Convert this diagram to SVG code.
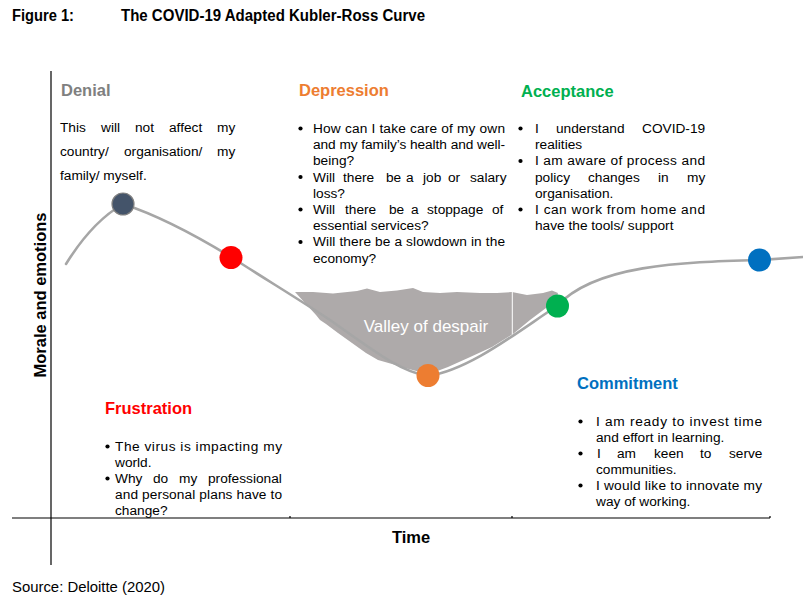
<svg xmlns="http://www.w3.org/2000/svg" width="803" height="598" viewBox="0 0 803 598">
<style>
  .t { font-family: "Liberation Sans", Arial, sans-serif; font-size: 13.7px; fill: #000; }
  .h { font-family: "Liberation Sans", Arial, sans-serif; font-size: 16.5px; font-weight: bold; }
  .ax { font-family: "Liberation Sans", Arial, sans-serif; font-size: 16.5px; font-weight: bold; fill: #000; }
  .ttl { font-family: "Liberation Sans Narrow", "Liberation Sans", Arial, sans-serif; font-size: 16px; font-weight: bold; fill: #000; }
  .axis { stroke: #000; stroke-width: 1.2; fill: none; }
  .curve { stroke: #A6A6A6; stroke-width: 2.6; fill: none; stroke-linecap: round; }
  .b { fill: #000; }
  .dot { stroke: none; }
</style>
<rect width="803" height="598" fill="#fff"/>

<g id="title">
  <text class="ttl" x="12" y="20.5" textLength="62" lengthAdjust="spacingAndGlyphs">Figure 1:</text>
  <text class="ttl" x="121" y="20.5" textLength="304" lengthAdjust="spacingAndGlyphs">The COVID-19 Adapted Kubler-Ross Curve</text>
</g>

<g id="axes">
  <line class="axis" x1="51" y1="71" x2="51" y2="565"/>
  <line class="axis" x1="12" y1="518" x2="770" y2="518"/>
  <line class="axis" x1="290" y1="516" x2="290" y2="518" stroke-width="0.8"/>
  <line class="axis" x1="512" y1="516" x2="512" y2="518" stroke-width="0.8"/>
  <line class="axis" x1="770" y1="516" x2="770" y2="518" stroke-width="0.8"/>
  <text class="ax" transform="translate(45.5,295) rotate(-90)" text-anchor="middle">Morale and emotions</text>
  <text class="ax" x="411" y="542.5" text-anchor="middle">Time</text>
</g>

<g id="valley">
  <path fill="#AEAAAA" d="M295,292 L313,292 L333,293.5 L357,291 L367,288.5 L380,292 L397,290.5 L413,288 L423,292 L440,293 L457,292 L480,293 L497,293 L512,292 L527,295 L543,293 L552,290.5 L558,293 L556,300 L546,308 L530,320 L513,334 L492,347 L468,358 L448,367 L432,373 L420,372 L405,368 L392,364 L378,360 L366,353 L352,343 L338,333 L326,324 L320,320 L316,315 L305,303 Z"/>
  <line x1="512.3" y1="292" x2="512.3" y2="340" stroke="#fff" stroke-width="1"/>
  <text x="426" y="332" text-anchor="middle" font-family="Liberation Sans, Arial, sans-serif" font-size="17" fill="#fff">Valley of despair</text>
</g>

<g id="connectors">
  <path class="curve" d="M66,264 Q92,222 123,204 C160,216 200,238 231,257 C270,282 300,300 330,320 C370,348 400,372 428,376 C470,370 520,330 557,306 C595,265 680,262 760,260 L803,257"/>
</g>

<g id="stage-points">
  <circle id="p-denial" cx="123" cy="204" r="11" fill="#44546A" stroke="#808080" stroke-width="1.2"/>
  <circle id="p-frustration" cx="231" cy="257.5" r="11.5" fill="#FF0000"/>
  <circle id="p-depression" cx="428" cy="375.5" r="11.5" fill="#ED7D31"/>
  <circle id="p-acceptance" cx="557.5" cy="306" r="11.5" fill="#00B050"/>
  <circle id="p-commitment" cx="759.5" cy="260" r="11.5" fill="#0070C0"/>
</g>

<g id="denial">
  <text class="h" x="61" y="96" fill="#808080">Denial</text>
  <text class="t" y="132"><tspan x="60">This</tspan><tspan x="101">will</tspan><tspan x="135">not</tspan><tspan x="169">affect</tspan><tspan x="217">my</tspan></text>
  <text class="t" y="156"><tspan x="60">country/</tspan><tspan x="124">organisation/</tspan><tspan x="217">my</tspan></text>
  <text class="t" x="60" y="180">family/ myself.</text>
</g>

<g id="depression">
  <text class="h" x="299" y="96" fill="#ED7D31">Depression</text>
  <circle class="b" cx="300.5" cy="128.5" r="2.1"/>
  <circle class="b" cx="300.5" cy="177" r="2.1"/>
  <circle class="b" cx="300.5" cy="209.5" r="2.1"/>
  <circle class="b" cx="300.5" cy="242" r="2.1"/>
  <text class="t" x="313" y="133" textLength="192" lengthAdjust="spacing">How can I take care of my own</text>
  <text class="t" x="313" y="149.2" textLength="192" lengthAdjust="spacing">and my family’s health and well-</text>
  <text class="t" x="313" y="165.4">being?</text>
  <text class="t" y="181.6"><tspan x="313">Will</tspan><tspan x="343">there</tspan><tspan x="386">be</tspan><tspan x="406">a</tspan><tspan x="423">job</tspan><tspan x="448">or</tspan><tspan x="470">salary</tspan></text>
  <text class="t" x="313" y="197.8">loss?</text>
  <text class="t" y="214"><tspan x="313">Will</tspan><tspan x="345">there</tspan><tspan x="389">be</tspan><tspan x="411">a</tspan><tspan x="427">stoppage</tspan><tspan x="492">of</tspan></text>
  <text class="t" x="313" y="230.2">essential services?</text>
  <text class="t" x="313" y="246.4" textLength="192" lengthAdjust="spacing">Will there be a slowdown in the</text>
  <text class="t" x="313" y="262.6">economy?</text>
</g>

<g id="acceptance">
  <text class="h" x="521" y="96.5" fill="#00B050">Acceptance</text>
  <circle class="b" cx="520.5" cy="128.5" r="2.1"/>
  <circle class="b" cx="520.5" cy="161" r="2.1"/>
  <circle class="b" cx="520.5" cy="209.5" r="2.1"/>
  <text class="t" y="133"><tspan x="535">I</tspan><tspan x="556">understand</tspan><tspan x="642">COVID-19</tspan></text>
  <text class="t" x="535" y="149.2">realities</text>
  <text class="t" x="535" y="165.4" textLength="170" lengthAdjust="spacing">I am aware of process and</text>
  <text class="t" y="181.6"><tspan x="535">policy</tspan><tspan x="588">changes</tspan><tspan x="658">in</tspan><tspan x="687">my</tspan></text>
  <text class="t" x="535" y="197.8">organisation.</text>
  <text class="t" x="535" y="214" textLength="170" lengthAdjust="spacing">I can work from home and</text>
  <text class="t" x="535" y="230.2">have the tools/ support</text>
</g>

<g id="frustration">
  <text class="h" x="105" y="414" fill="#FF0000">Frustration</text>
  <circle class="b" cx="107.5" cy="446.5" r="2.1"/>
  <circle class="b" cx="107.5" cy="478.5" r="2.1"/>
  <text class="t" x="115" y="451" textLength="167" lengthAdjust="spacing">The virus is impacting my</text>
  <text class="t" x="115" y="467">world.</text>
  <text class="t" y="483"><tspan x="115">Why</tspan><tspan x="153">do</tspan><tspan x="179">my</tspan><tspan x="208">professional</tspan></text>
  <text class="t" x="115" y="499" textLength="167" lengthAdjust="spacing">and personal plans have to</text>
  <text class="t" x="115" y="515">change?</text>
</g>

<g id="commitment">
  <text class="h" x="577" y="389" fill="#0070C0">Commitment</text>
  <circle class="b" cx="580.5" cy="421.5" r="2.1"/>
  <circle class="b" cx="580.5" cy="453.5" r="2.1"/>
  <circle class="b" cx="580.5" cy="485.5" r="2.1"/>
  <text class="t" x="596" y="426" textLength="166" lengthAdjust="spacing">I am ready to invest time</text>
  <text class="t" x="596" y="442">and effort in learning.</text>
  <text class="t" y="458"><tspan x="597">I</tspan><tspan x="617">am</tspan><tspan x="654">keen</tspan><tspan x="700">to</tspan><tspan x="729">serve</tspan></text>
  <text class="t" x="596" y="474">communities.</text>
  <text class="t" x="596" y="490" textLength="166" lengthAdjust="spacing">I would like to innovate my</text>
  <text class="t" x="596" y="506">way of working.</text>
</g>

<g id="source">
  <text x="12" y="592" font-family="Liberation Sans, Arial, sans-serif" font-size="15" fill="#000" textLength="153" lengthAdjust="spacingAndGlyphs">Source: Deloitte (2020)</text>
</g>
</svg>
